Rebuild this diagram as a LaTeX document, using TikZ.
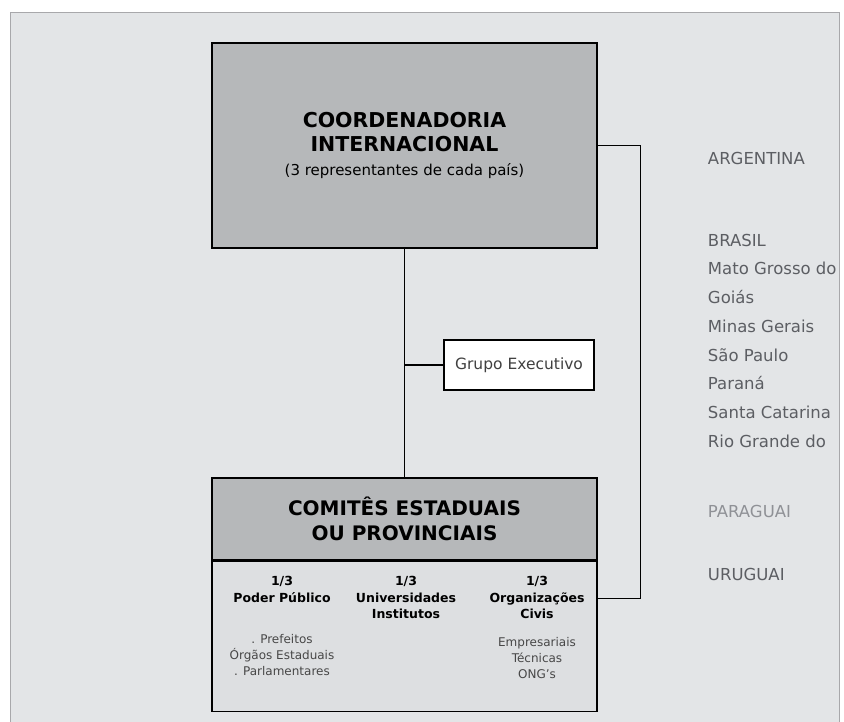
\documentclass[tikz,border=0pt]{standalone}
\usepackage{fontspec}
\setmainfont{DejaVu Sans}
\usepackage{tikz}
\usetikzlibrary{
  positioning,
  calc
}
\usepackage{xcolor}
\definecolor{panelGray}{rgb}{0.89,0.898,0.906}
\definecolor{panelEdge}{rgb}{0.66,0.66,0.67}
\definecolor{boxGray}{rgb}{0.715,0.72,0.73}
\definecolor{bodyGray}{rgb}{0.865,0.873,0.882}
\definecolor{countryGray}{rgb}{0.36,0.37,0.39}
\definecolor{paleGray}{rgb}{0.56,0.57,0.59}
\newcommand{\subFont}{\mdseries\fontsize{15}{23}\selectfont}
\tikzset{
  orgBox/.style={
    rectangle,
    draw=black,
    line width=1.3pt,
    fill=boxGray,
    align=center,
    inner sep=0pt
  }
}
\tikzset{
  execBox/.style={
    rectangle,
    draw=black,
    line width=1.1pt,
    fill=white,
    minimum width=150,
    minimum height=50,
    font=\fontsize{15.5}{18}\selectfont,
    text=black!75
  }
}
\tikzset{
  country/.style={
    anchor=west,
    font=\fontsize{16.5}{20}\selectfont,
    text=countryGray
  }
}
\tikzset{
  share/.style={
    align=center,
    anchor=north,
    inner sep=0pt,
    font=\bfseries\fontsize{12.5}{16.5}\selectfont
  }
}
\tikzset{
  members/.style={
    align=center,
    anchor=north,
    inner sep=0pt,
    font=\fontsize{12}{16}\selectfont,
    text=black!72
  }
}

\begin{document}
\begin{tikzpicture}[x=1pt, y=-1pt, line width=1.3pt]
    \useasboundingbox (0,0) rectangle (844,722);
    \fill[white] (0,0) rectangle (844,722);
    \filldraw[fill=panelGray, draw=panelEdge, line width=0.8pt]
    (10,12) rectangle (839,740);
    % boxes
    \node[orgBox, minimum width=385, minimum height=205,
      font=\bfseries\fontsize{20.5}{24}\selectfont] (coord) at (404.5,145.5)
      {COORDENADORIA\\INTERNACIONAL\\
       \subFont (3 representantes de cada país)};
    \node[orgBox, minimum width=385, minimum height=82,
      font=\bfseries\fontsize{20}{25}\selectfont] (comites) at (404.5,519)
      {COMITÊS ESTADUAIS\\OU PROVINCIAIS};
    \node[orgBox, fill=bodyGray, minimum width=385, minimum height=150,
      below=0pt of comites] (body) {};
    \node[execBox] (grupo) at (519,365) {Grupo Executivo};
    % columns of the committee
    \foreach \Name/\X/\Title in {poder/282/Poder Público,
      univ/406/Universidades\\Institutos, org/537/Organizações\\Civis}{
      \node[share] (\Name) at (\X,576) {1/3\\\Title};
    }
    \node[members] (poderList) at (282,634)
      {. Prefeitos\\Órgãos Estaduais\\. Parlamentares};
    \node[members] (orgList) at (537,637)
      {Empresariais\\Técnicas\\ONG's};
    % connectors
    \draw (coord.south) -- (comites.north);
    \draw (coord.south |- grupo.west) -- (grupo.west);
    \draw (coord.east) -- ++(43,0) |- ([yshift=38pt]body.east);
    % countries
    \node[country] (arg) at (704,158) {ARGENTINA};
    \node[country] (bra) at (704,240) {BRASIL};
    \foreach \State [count=\i] in {Mato Grosso do, Goiás, Minas Gerais,
      São Paulo, Paraná, Santa Catarina, Rio Grande do}{
      \node[country] (state\i) at (704,{240+28.7*\i}) {\State};
    }
    \node[country, text=paleGray] (par) at (704,511) {PARAGUAI};
    \node[country] (uru) at (704,574) {URUGUAI};
  \end{tikzpicture}
\end{document}
